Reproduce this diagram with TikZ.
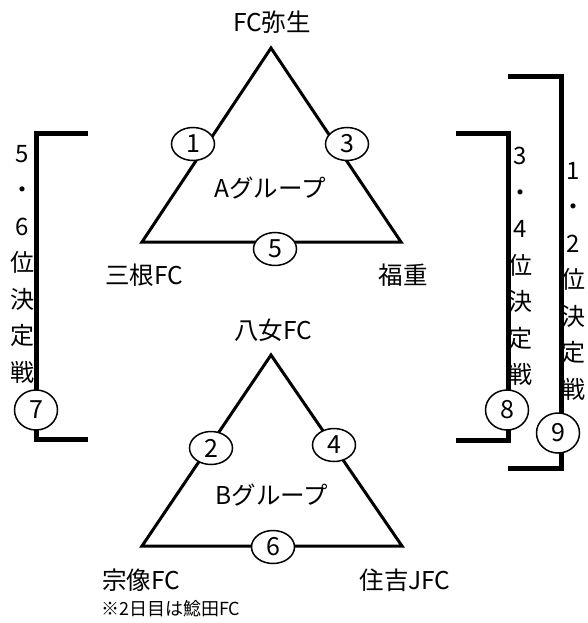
\documentclass[tikz,border=0pt]{standalone}
\usepackage{fontspec}
\setmainfont{Noto Sans CJK JP}
\usetikzlibrary{shapes.geometric}

\begin{document}
\begin{tikzpicture}[x=1pt, y=-1pt,
    side/.style={line width=3pt, line join=miter},
    bracket/.style={line width=5pt, line join=miter},
    match/.style={ellipse, draw, line width=1.5pt, fill=white, inner sep=0pt, minimum width=43pt, minimum height=33pt, font=\fontsize{25}{25}\selectfont},
    final/.style={match, minimum height=40pt},
    team/.style={inner sep=0pt, font=\fontsize{24.5}{24.5}\selectfont},
    vlabel/.style={anchor=north, align=center, inner sep=0pt, font=\fontsize{24}{36.5}\selectfont}]
    \useasboundingbox (0,0) rectangle (588,623);

    % group A
    \coordinate (a1) at (271, 48);
    \coordinate (a2) at (142, 242);
    \coordinate (a3) at (401, 242);
    \draw[side] (a1) -- (a2) -- (a3) -- cycle;
    \node[team] (yayoi) at (272, 22) {FC弥生};
    \node[team] (mine) at (144, 275) {三根FC};
    \node[team] (fukushige) at (403, 275) {福重};
    \node[team] (groupA) at (270, 188) {Aグループ};
    \node[match] (m1) at (193, 144) {1};
    \node[match] (m3) at (347, 144) {3};
    \node[match] (m5) at (275, 249) {5};

    % group B
    \coordinate (b1) at (271, 355);
    \coordinate (b2) at (142, 546);
    \coordinate (b3) at (402, 546);
    \draw[side] (b1) -- (b2) -- (b3) -- cycle;
    \node[team] (yame) at (273, 330) {八女FC};
    \node[team] (munakata) at (141, 580) {宗像FC};
    \node[team] (sumiyoshi) at (405, 580) {住吉JFC};
    \node[team] (groupB) at (272, 495) {Bグループ};
    \node[match] (m2) at (211, 448) {2};
    \node[match] (m4) at (334, 445) {4};
    \node[match] (m6) at (273, 547) {6};
    \node[anchor=west, inner sep=0pt, font=\fontsize{18}{18}\selectfont] (note) at (101, 609) {※2日目は鯰田FC};

    % 5-6
    \coordinate (l1) at (88, 133);
    \coordinate (l2) at (36, 133);
    \coordinate (l3) at (36, 439);
    \coordinate (l4) at (88, 439);
    \draw[bracket] (l1) -- (l2) -- (l3) -- (l4);
    \node[vlabel] (p56) at (22, 145) {5\\・\\6\\位\\決\\定\\戦};
    \node[final] (m7) at (36, 410) {7};

    % 3-4
    \coordinate (r1) at (456, 133);
    \coordinate (r2) at (508, 133);
    \coordinate (r3) at (508, 440);
    \coordinate (r4) at (456, 440);
    \draw[bracket] (r1) -- (r2) -- (r3) -- (r4);
    \node[vlabel] (p34) at (520, 147) {3\\・\\4\\位\\決\\定\\戦};
    \node[final] (m8) at (507, 410) {8};

    % 1-2
    \coordinate (f1) at (508, 77);
    \coordinate (f2) at (561, 77);
    \coordinate (f3) at (561, 468);
    \coordinate (f4) at (508, 468);
    \draw[bracket] (f1) -- (f2) -- (f3) -- (f4);
    \node[vlabel] (p12) at (573, 162) {1\\・\\2\\位\\決\\定\\戦};
    \node[final] (m9) at (558, 433) {9};
\end{tikzpicture}
\end{document}
